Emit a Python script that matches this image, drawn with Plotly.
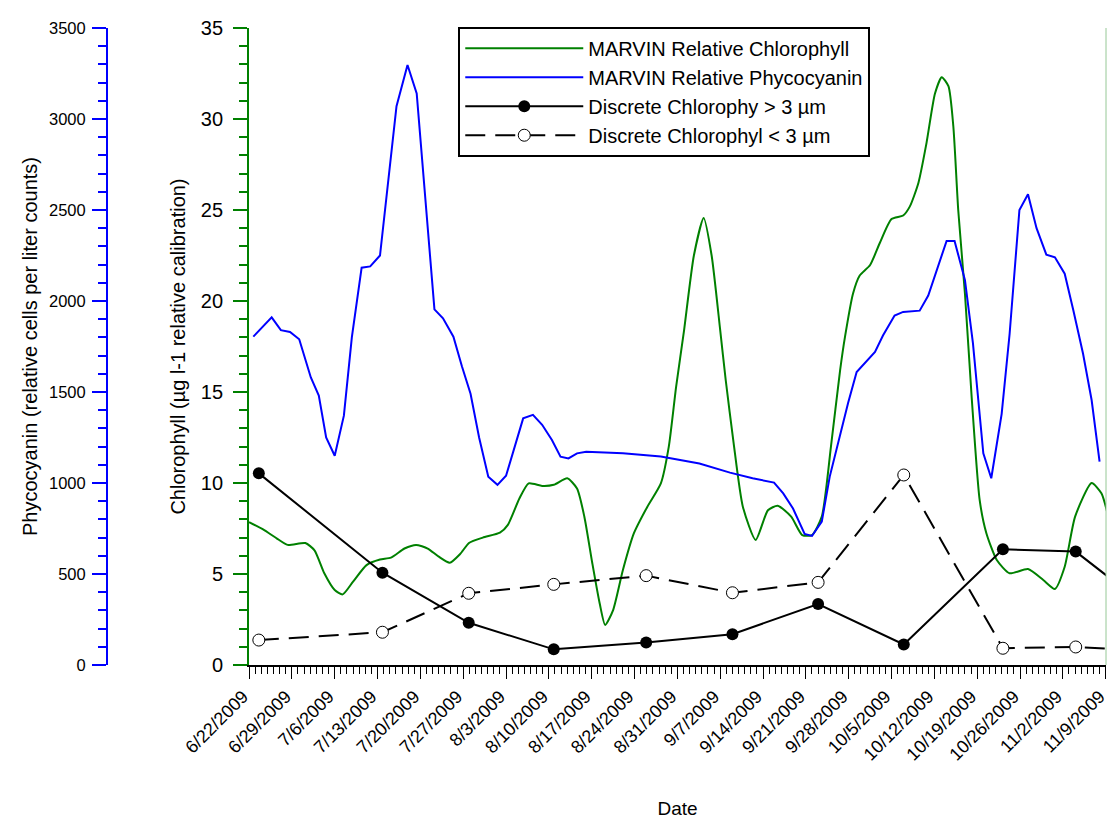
import pandas as pd
import plotly.graph_objects as go

START = "2009-06-22"

# MARVIN relative chlorophyll (days since 6/22/2009, ug/l)
chl_days = [0.0, 2.3, 4.5, 6.3, 9.2, 10.7, 12.3, 14.0, 15.3, 17.0, 19.2, 21.4, 23.2, 25.4, 27.3,
            29.2, 31.0, 32.8, 34.5, 36.0, 38.2, 41.0, 42.3, 44.2, 45.7, 47.9, 49.8, 52.0, 53.6,
            54.8, 56.1, 57.3, 58.2, 59.5, 61.1, 62.9, 65.1, 67.3, 68.6, 69.8, 71.1, 72.7, 74.3,
            75.6, 77.0, 77.9, 79.2, 80.7, 82.8, 84.8, 86.4, 88.6, 90.4, 92.0, 93.6, 95.1, 96.6,
            97.4, 98.7, 99.8, 101.5, 103.1, 105.0, 106.9, 108.0, 109.4, 110.7, 112.1, 113.2,
            114.3, 115.1, 115.9, 117.0, 118.1, 119.4, 120.5, 122.2, 124.3, 127.3, 129.8, 131.7,
            133.3, 135.0, 137.7, 139.3, 140.3]
chl_vals = [7.85, 7.45, 6.96, 6.6, 6.7, 6.3, 5.04, 4.12, 3.88, 4.58, 5.49, 5.8, 5.9, 6.4, 6.6,
            6.4, 5.95, 5.62, 6.1, 6.72, 7.0, 7.27, 7.7, 9.16, 9.98, 9.84, 9.9, 10.26, 9.7,
            8.15, 5.59, 3.39, 2.2, 3.02, 5.22, 7.24, 8.7, 9.98, 12.0, 15.3, 18.4, 22.5, 24.56,
            22.5, 18.4, 15.66, 12.18, 8.7, 6.87, 8.5, 8.75, 8.15, 7.14, 7.14, 8.15, 12.0, 16.2,
            18.04, 20.4, 21.4, 21.98, 23.2, 24.5, 24.7, 25.2, 26.5, 28.65, 31.4, 32.3,
            31.8, 29.6, 25.0, 20.4, 14.7, 9.07, 7.24, 5.77, 5.04, 5.27, 4.67, 4.18,
            5.4, 8.15, 10.0, 9.43, 8.33]

# MARVIN relative phycocyanin (days since 6/22/2009, relative cells per liter)
pc_days = [0.7, 3.7, 5.2, 6.7, 8.2, 10.1, 11.4, 12.6, 14.0, 15.5, 16.8, 18.4, 19.8, 21.4, 24.1,
           25.9, 27.4, 30.3, 31.7, 33.4, 34.8, 36.2, 37.6, 39.1, 40.6, 42.0, 44.8, 46.4, 47.9,
           49.5, 50.9, 52.2, 53.6, 55.1, 61.1, 67.3, 73.6, 78.6, 82.3, 85.8, 87.3, 88.9, 90.8,
           92.0, 93.6, 94.9, 97.9, 99.3, 102.3, 103.6, 105.5, 106.9, 109.6, 111.0, 114.0, 115.3,
           117.0, 118.3, 120.0, 121.3, 123.0, 124.3, 125.9, 127.3, 128.7, 130.3, 131.7, 133.3,
           134.7, 136.3, 137.7, 139.0]
pc_vals = [1804, 1910, 1840, 1830, 1790, 1580, 1480, 1250, 1150, 1370, 1800, 2183, 2190, 2250, 3070,
           3297, 3140, 1954, 1905, 1804, 1640, 1490, 1250, 1035, 990, 1040, 1355, 1374, 1320,
           1236, 1145, 1135, 1163, 1172, 1163, 1145, 1107, 1057, 1026, 1002, 943, 860, 720,
           709, 788, 1035, 1440, 1610, 1720, 1810, 1920, 1940, 1947, 2030, 2330, 2330,
           2115, 1770, 1163, 1026, 1380, 1820, 2500, 2586, 2400, 2255, 2240, 2150,
           1950, 1710, 1456, 1117]

# Discrete samples (days since 6/22/2009, ug/l)
disc_days = [1.6, 21.8, 35.9, 49.8, 64.9, 79.0, 93.0, 107.0, 123.2, 135.1, 149.0]
chl_large = [10.53, 5.07, 2.32, 0.86, 1.23, 1.69, 3.35, 1.13, 6.36, 6.23, 2.6]
chl_small = [1.37, 1.80, 3.94, 4.43, 4.91, 3.97, 4.54, 10.44, 0.92, 0.99, 0.73]


def to_dates(days):
    return pd.Timestamp(START) + pd.to_timedelta(days, unit="D")


FONT = "Liberation Sans, Arial, sans-serif"
GREEN = "rgb(0,128,0)"
BLUE = "rgb(0,0,255)"

fig = go.Figure()
fig.add_trace(go.Scatter(x=to_dates(chl_days), y=chl_vals, mode="lines",
                         line=dict(color=GREEN, width=2, shape="spline", smoothing=0.6),
                         name="MARVIN Relative Chlorophyll"))
fig.add_trace(go.Scatter(x=to_dates(pc_days), y=pc_vals, mode="lines", yaxis="y2",
                         line=dict(color=BLUE, width=2),
                         name="MARVIN Relative Phycocyanin"))
fig.add_trace(go.Scatter(x=to_dates(disc_days), y=chl_large, mode="lines+markers",
                         line=dict(color="black", width=2),
                         marker=dict(symbol="circle", size=12, color="black"),
                         name="Discrete Chlorophy > 3 µm"))
fig.add_trace(go.Scatter(x=to_dates(disc_days), y=chl_small, mode="lines+markers",
                         line=dict(color="black", width=2, dash="20px,10px"),
                         marker=dict(symbol="circle", size=12, color="white",
                                     line=dict(color="black", width=1)),
                         name="Discrete Chlorophyl < 3 µm"))

fig.add_shape(type="line", xref="x domain", yref="y domain", x0=1, x1=1, y0=0, y1=1,
              line=dict(color="rgb(150,200,150)", width=1))

fig.update_layout(
    width=1108, height=819,
    margin=dict(l=10, r=2, t=28, b=154, autoexpand=False),
    plot_bgcolor="white", paper_bgcolor="white",
    font=dict(family=FONT, size=14, color="black"),
    showlegend=True,
    legend=dict(x=0.409, y=1.002, xanchor="left", yanchor="top",
                bgcolor="white", bordercolor="black", borderwidth=2,
                itemwidth=118,
                font=dict(family=FONT, size=20), tracegroupgap=0),
    xaxis=dict(
        domain=[0.2181, 1.0], type="date", automargin=False,
        range=[to_dates(0), to_dates(140.05)],
        tick0=START, dtick=7 * 86400000, tickformat="%-m/%-d/%Y",
        tickangle=-45, tickfont=dict(size=18), ticklabeloverflow="allow", ticklabelshift=-6,
        ticks="outside", ticklen=12, tickwidth=1, tickcolor="black",
        minor=dict(dtick=86400000, ticks="outside", ticklen=7, tickwidth=1, tickcolor="black"),
        showline=True, linecolor="black", linewidth=2, showgrid=False, zeroline=False,
        title=dict(text="Date", font=dict(size=19), standoff=38),
    ),
    yaxis=dict(
        range=[0, 35], dtick=5, tickfont=dict(size=20), automargin=False,
        ticks="outside", ticklen=14, tickwidth=2, tickcolor=GREEN, ticklabelstandoff=6,
        minor=dict(dtick=1, ticks="outside", ticklen=8, tickwidth=2, tickcolor=GREEN),
        showline=True, linecolor=GREEN, linewidth=2, showgrid=False, zeroline=False,
        title=dict(text="Chlorophyll (µg l-1 relative calibration)", font=dict(size=20), standoff=10),
    ),
    yaxis2=dict(
        range=[0, 3500], dtick=500, overlaying="y", side="left", anchor="free", position=0.0885,
        tickfont=dict(size=16.5), automargin=False,
        ticks="outside", ticklen=14, tickwidth=2, tickcolor=BLUE, ticklabelstandoff=3,
        minor=dict(dtick=100, ticks="outside", ticklen=8, tickwidth=2, tickcolor=BLUE),
        showline=True, linecolor=BLUE, linewidth=2, showgrid=False, zeroline=False,
        title=dict(text="Phycocyanin (relative cells per liter counts)", font=dict(size=20), standoff=5),
    ),
)

fig.write_html("out.html")
